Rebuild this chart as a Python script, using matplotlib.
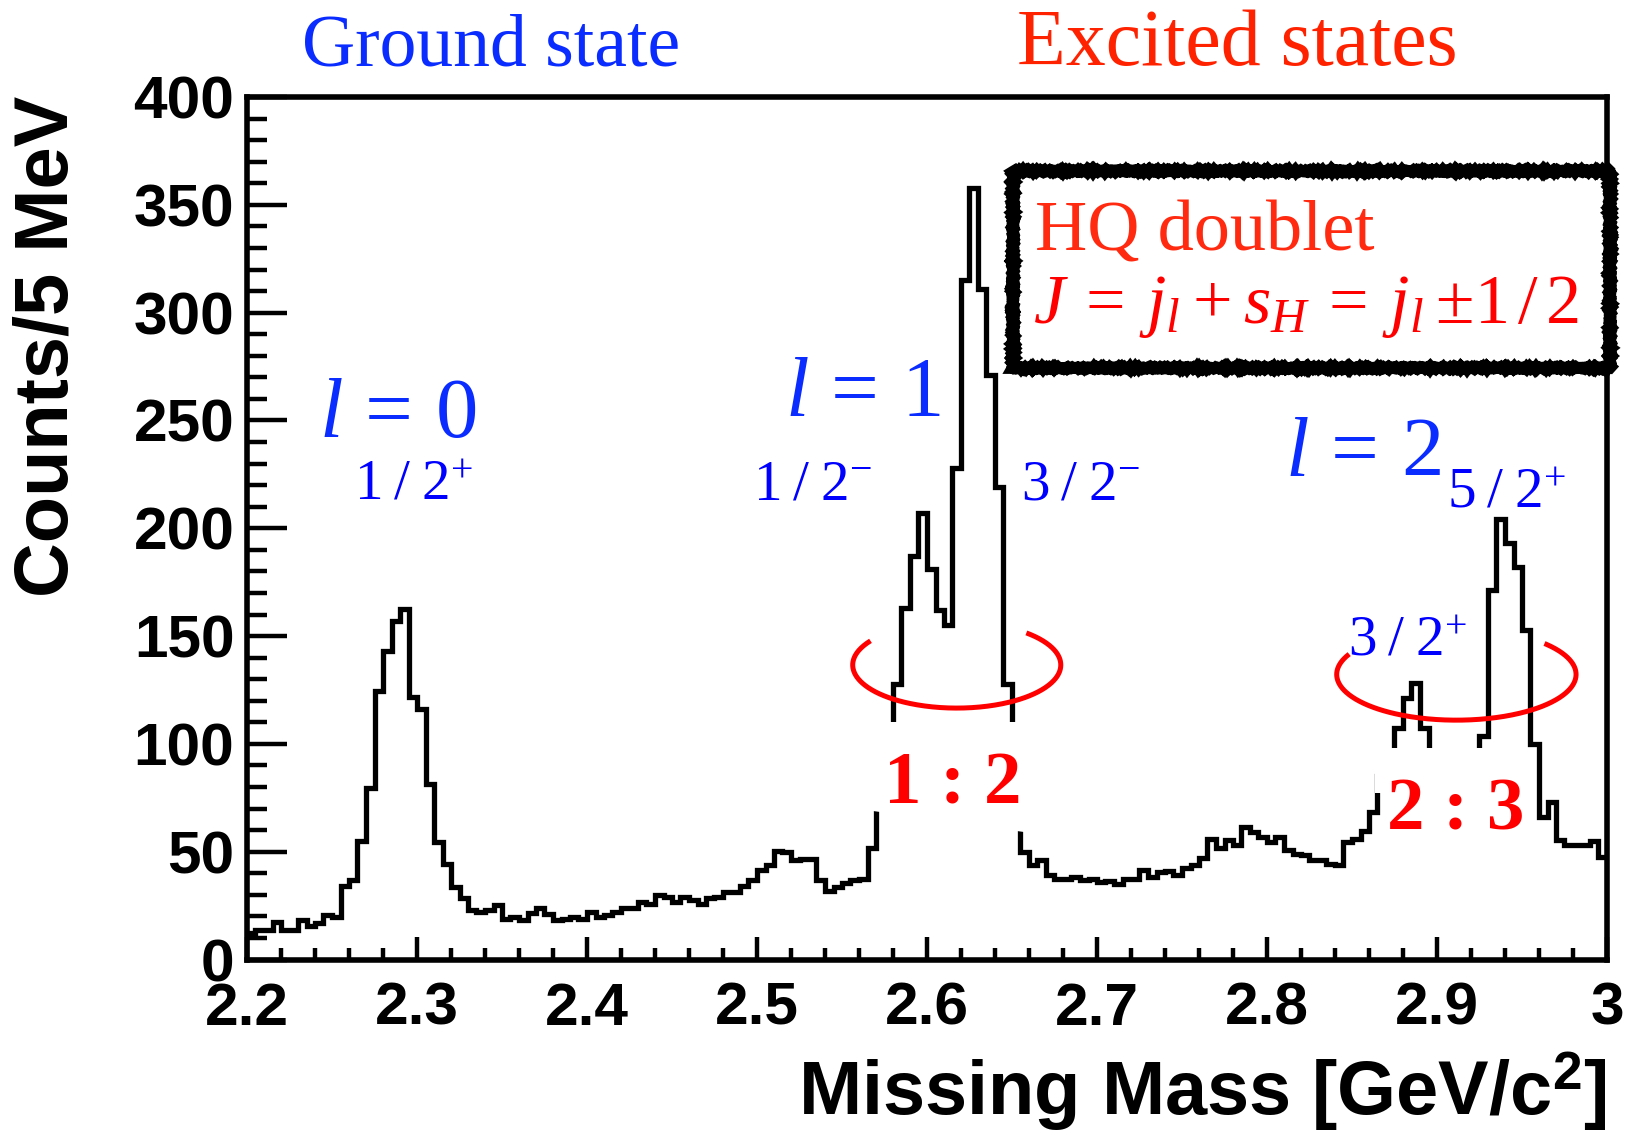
import numpy as np
import matplotlib
matplotlib.use("Agg")
import matplotlib.pyplot as plt
from matplotlib.patches import Polygon, Rectangle
from matplotlib.ticker import MultipleLocator, FuncFormatter

# ---- data: missing-mass spectrum, 5 MeV bins from 2.2 to 3.0 GeV/c^2 ----
mass_lo = 2.2
mass_hi = 3.0
bin_width = 0.005
counts = [
    12.4, 13.6, 13.6, 17.5, 13.6, 13.6, 18.2, 15.6, 16.7, 20.5,
    19.8, 33.9, 37.0, 54.8, 79.6, 124.5, 143.0, 156.8, 162.5, 121.7,
    116.0, 81.4, 54.7, 44.4, 33.6, 28.3, 22.9, 22.1, 22.9, 25.2,
    19.0, 19.5, 18.2, 21.6, 24.0, 21.3, 18.5, 19.0, 19.8, 19.0,
    21.8, 19.8, 20.6, 22.1, 24.0, 24.0, 26.7, 25.9, 29.8, 29.0,
    26.7, 29.0, 27.5, 25.6, 28.3, 29.0, 31.3, 31.3, 34.0, 36.7,
    41.6, 43.6, 50.3, 49.8, 46.3, 46.7, 46.7, 37.0, 31.6, 33.5,
    35.5, 37.0, 37.2, 51.5, 80.0, 100.0, 128.0, 163.0, 187.0, 207.0,
    181.0, 162.0, 155.0, 228.0, 315.0, 358.0, 311.0, 271.0, 219.0, 128.0,
    80.0, 50.0, 43.6, 46.0, 39.3, 37.2, 37.2, 38.3, 36.7, 37.2,
    36.0, 36.3, 35.2, 37.2, 37.2, 41.3, 38.3, 40.6, 41.0, 39.0,
    42.6, 43.6, 47.2, 56.0, 51.8, 55.2, 52.9, 61.4, 59.0, 56.7,
    54.4, 57.0, 50.6, 49.0, 48.3, 46.0, 46.0, 44.4, 43.6, 54.4,
    56.0, 59.8, 68.3, 85.0, 90.0, 107.5, 121.4, 128.3, 107.5, 92.0,
    85.0, 82.0, 82.0, 85.0, 92.0, 103.7, 171.4, 204.5, 193.0, 182.2,
    153.0, 100.0, 66.0, 72.9, 55.2, 53.0, 53.0, 53.0, 55.0, 47.5,
]
y_ticks = [0, 50, 100, 150, 200, 250, 300, 350, 400]
x_ticks = [2.2, 2.3, 2.4, 2.5, 2.6, 2.7, 2.8, 2.9, 3.0]

edges = mass_lo + bin_width * np.arange(len(counts) + 1)

W, H = 1631, 1130
plt.rcParams["mathtext.fontset"] = "custom"
plt.rcParams["mathtext.rm"] = "Liberation Serif"
plt.rcParams["mathtext.it"] = "Liberation Serif:italic"
plt.rcParams["mathtext.bf"] = "Liberation Sans:bold"

fig = plt.figure(figsize=(W / 100, H / 100), dpi=100)
ax = fig.add_axes([247 / W, 1 - 959.5 / H, (1607 - 247) / W, (959.5 - 97) / H])


def ftext(px, py, s, **kw):
    """Place text at pixel coordinates measured from the top-left corner."""
    return fig.text(px / W, 1 - py / H, s, **kw)


ax.stairs(counts, edges, baseline=None, color="black", lw=3.8, zorder=2)

ax.set_xlim(mass_lo, mass_hi)
ax.set_ylim(y_ticks[0], y_ticks[-1])
ax.set_xticks(x_ticks)
ax.set_yticks(y_ticks)
ax.xaxis.set_minor_locator(MultipleLocator(0.02))
ax.yaxis.set_minor_locator(MultipleLocator(10))
ax.xaxis.set_major_formatter(FuncFormatter(lambda v, p: f"{v:g}"))
ax.yaxis.set_major_formatter(FuncFormatter(lambda v, p: f"{v:g}"))
ax.tick_params(which="both", direction="in", top=False, right=False,
               width=3.2, color="black")
ax.tick_params(axis="y", which="major", length=29, pad=9)
ax.tick_params(axis="y", which="minor", length=14.4)
ax.tick_params(axis="x", which="major", length=16.6, pad=16)
ax.tick_params(axis="x", which="minor", length=8.6)
for lab in ax.get_xticklabels() + ax.get_yticklabels():
    lab.set_fontfamily("Liberation Sans")
    lab.set_fontweight("bold")
    lab.set_fontsize(43.5)
for sp in ax.spines.values():
    sp.set_linewidth(4.0)

# axis titles
ftext(48.5, 346, "Counts/5 MeV", rotation=90, ha="center", va="center",
      fontfamily="Liberation Sans", fontweight="bold", fontsize=54.5)
ftext(1606, 1092, r"Missing Mass [GeV/c$^{\mathbf{2}}$]", ha="right",
      va="center", fontfamily="Liberation Sans", fontweight="bold",
      fontsize=54.5)

# white backgrounds behind the ratio labels
ax.add_patch(Polygon([(2.5683, 69), (2.5683, 110), (2.6568, 110), (2.6568, 59)],
                     closed=True, facecolor="white", edgecolor="none",
                     zorder=2.5))
ax.add_patch(Polygon([(2.8638, 77), (2.8638, 98), (2.9572, 98), (2.9572, 77)],
                     closed=True, facecolor="white", edgecolor="none",
                     zorder=2.5))

# open ellipses around the doublets
for cx, a, cy, b, t0, t1 in [(2.6175, 0.0612, 136.6, 20.0, 146, 408),
                             (2.9114, 0.0704, 132.2, 21.2, 153.6, 402.6)]:
    t = np.radians(np.linspace(t0, t1, 300))
    ax.plot(cx + a * np.cos(t), cy + b * np.sin(t), color="#ff0000", lw=3.6,
            solid_capstyle="butt", zorder=3)

blue = "#0a2cff"
blue2 = "#0000ff"
red = "#ff2200"

# headers
ftext(302, 65.5, "Ground state", ha="left", va="baseline",
      fontfamily="Liberation Serif", fontsize=53, color=blue)
ftext(1017, 65.5, "Excited states", ha="left", va="baseline",
      fontfamily="Liberation Serif", fontsize=57.5, color=red)

# orbital labels
for px, py, s in [(397.5, 437, r"$l\,=\,0$"), (863, 416, r"$l\,=\,1$"),
                  (1363, 476, r"$l\,=\,2$")]:
    ftext(px, py, s, ha="center", va="baseline", fontsize=61, color=blue)

# spin-parity labels
for px, py, s in [(413.5, 500, r"$1\;/\;2^{+}$"), (812, 500, r"$1\;/\;2^{-}$"),
                  (1080, 500, r"$3\;/\;2^{-}$"), (1506, 507.5, r"$5\;/\;2^{+}$"),
                  (1407, 655, r"$3\;/\;2^{+}$")]:
    ftext(px, py, s, ha="center", va="baseline", fontsize=41, color=blue2)

# ratio labels
ftext(953, 804, "1 : 2", ha="center", va="baseline",
      fontfamily="Liberation Serif", fontweight="bold", fontsize=54,
      color="#ff0000", zorder=5)
ftext(1456, 829, "2 : 3", ha="center", va="baseline",
      fontfamily="Liberation Serif", fontweight="bold", fontsize=54,
      color="#ff0000", zorder=5)

# heavy-quark doublet box
box = Rectangle((1013 / W, 1 - 368 / H), (1610 - 1013) / W, (368 - 171) / H,
                transform=fig.transFigure, facecolor="none", edgecolor="black",
                lw=8.5, zorder=6)
box.set_sketch_params(0.7, 3, 2)
fig.patches.append(box)
ftext(1035, 250, "HQ doublet", ha="left", va="baseline",
      fontfamily="Liberation Serif", fontsize=52, color="#ff2a10")
ftext(1033, 323, r"$J\:=\:j_l\:+\:s_H\:=\:j_l\:\pm 1\,/\,2$", ha="left",
      va="baseline", fontsize=50.5, color="#ff0000")

fig.savefig("out.png", dpi=100)
